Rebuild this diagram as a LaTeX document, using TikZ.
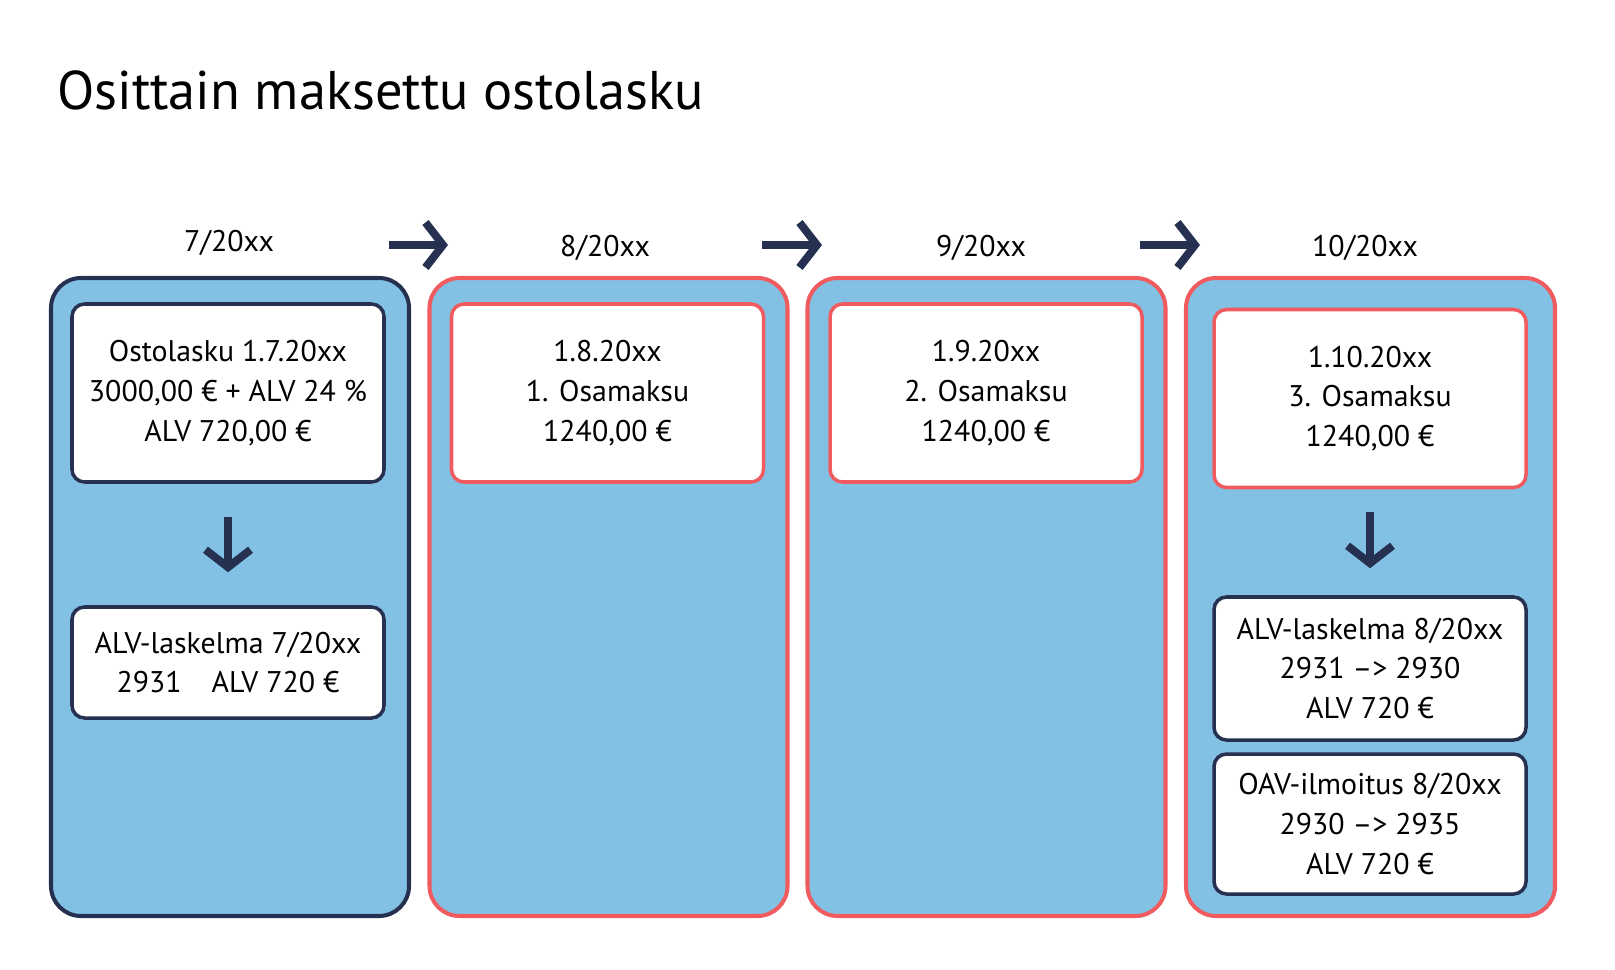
\documentclass[tikz,border=0pt]{standalone}
\usepackage{fontspec}
\setmainfont{PT Sans}
\usetikzlibrary{arrows.meta}
\definecolor{navy}{HTML}{263050}
\definecolor{sky}{HTML}{83C1E4}
\definecolor{coral}{HTML}{EF5B5E}
\tikzset{
  column/.style={draw=#1, line width=2.3pt, fill=sky, rounded corners=0.6cm, minimum width=7.16cm, minimum height=12.76cm},
  card/.style={draw=#1, line width=2pt, fill=white, rounded corners=0.25cm, minimum width=6.24cm, align=center, font=\fontsize{17}{22.7}\selectfont},
  hdr/.style={font=\fontsize{17}{20}\selectfont},
  fat/.style={draw=navy, line width=4.5pt, -{Straight Barb[length=3.5mm,width=9mm,line width=4.5pt]}}
}
\begin{document}
\begin{tikzpicture}
\useasboundingbox (0,0) rectangle (32.3,-19.4);
\node[anchor=base west, font=\fontsize{31}{36}\selectfont] (title) at (1.02,-2.2) {Osittain maksettu ostolasku};
% columns
\node[column=navy] (col1) at (4.6,-11.94) {};
\node[column=coral] (col2) at (12.17,-11.94) {};
\node[column=coral] (col3) at (19.73,-11.94) {};
\node[column=coral, minimum width=7.38cm] (col4) at (27.41,-11.94) {};
% headers
\node[hdr] (h1) at (4.58,-4.85) {7/20xx};
\node[hdr] (h2) at (12.1,-4.95) {8/20xx};
\node[hdr] (h3) at (19.62,-4.95) {9/20xx};
\node[hdr] (h4) at (27.3,-4.95) {10/20xx};
\coordinate (a1s) at (7.78,-4.9);  \coordinate (a1e) at (8.96,-4.9);
\coordinate (a2s) at (15.24,-4.9); \coordinate (a2e) at (16.44,-4.9);
\coordinate (a3s) at (22.8,-4.9);  \coordinate (a3e) at (24.0,-4.9);
\draw[fat] (a1s) -- (a1e);
\draw[fat] (a2s) -- (a2e);
\draw[fat] (a3s) -- (a3e);
% cards
\node[card=navy, minimum height=3.56cm] (buy) at (4.56,-7.86) {Ostolasku 1.7.20xx\\3000,00 € + ALV 24 \%\\ALV 720,00 €};
\node[card=navy, minimum height=2.22cm] (calc7) at (4.56,-13.25) {ALV-laskelma 7/20xx\\2931\quad ALV 720 €};
\node[card=coral, minimum height=3.56cm] (pay1) at (12.15,-7.86) {1.8.20xx\\1. Osamaksu\\1240,00 €};
\node[card=coral, minimum height=3.56cm] (pay2) at (19.72,-7.86) {1.9.20xx\\2. Osamaksu\\1240,00 €};
\node[card=coral, minimum height=3.56cm] (pay3) at (27.4,-7.97) {1.10.20xx\\3. Osamaksu\\1240,00 €};
\node[card=navy, minimum height=2.86cm] (calc8) at (27.4,-13.37) {ALV-laskelma 8/20xx\\2931 --> 2930\\ALV 720 €};
\node[card=navy, minimum height=2.8cm] (oav) at (27.4,-16.48) {OAV-ilmoitus 8/20xx\\2930 --> 2935\\ALV 720 €};
\draw[fat, shorten <=0.66cm, shorten >=0.66cm] (buy) -- (calc7);
\draw[fat, shorten <=0.46cm, shorten >=0.54cm] (pay3) -- (calc8);
\end{tikzpicture}
\end{document}
